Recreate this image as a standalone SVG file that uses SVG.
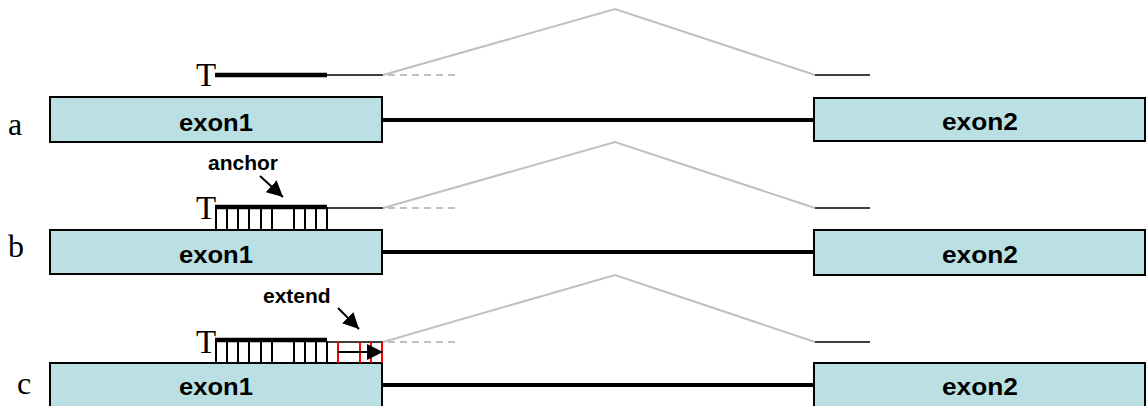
<svg xmlns="http://www.w3.org/2000/svg" width="1147" height="406" viewBox="0 0 1147 406">
  <style>
    .exon { fill: #BBE0E3; stroke: #000; stroke-width: 2; }
    .exon-label { font-family: "Liberation Sans", Arial, sans-serif; font-weight: bold; font-size: 24px; text-anchor: middle; fill: #000; }
    .row-label { font-family: "Liberation Serif", "Times New Roman", serif; font-size: 32px; fill: #000; }
    .t-label { font-family: "Liberation Serif", "Times New Roman", serif; font-size: 33px; fill: #000; }
    .note { font-family: "Liberation Sans", Arial, sans-serif; font-weight: bold; font-size: 21px; fill: #000; }
    .intron { stroke: #000; stroke-width: 4; fill: none; }
    .read { stroke: #000; stroke-width: 4.5; fill: none; }
    .thin { stroke: #000; stroke-width: 1.5; fill: none; }
    .splice { stroke: #C0C0C0; stroke-width: 2; fill: none; }
    .dash { stroke: #C0C0C0; stroke-width: 2; stroke-dasharray: 7 5; fill: none; }
    .tick { stroke: #000; stroke-width: 2; }
    .tick-red { stroke: #FF0000; stroke-width: 2; }
    .pointer { stroke: #000; stroke-width: 2; fill: none; }
  </style>
  <defs>
    <marker id="head" viewBox="0 0 10 10" refX="10" refY="5" markerWidth="8" markerHeight="8" markerUnits="strokeWidth" orient="auto">
      <path d="M0,0 L10,5 L0,10 Z" fill="#000"/>
    </marker>
  </defs>

  <!-- row a -->
  <text class="row-label" x="8" y="135">a</text>
  <g id="a-exon1">
    <rect class="exon" x="50" y="97" width="332" height="45"/>
    <text class="exon-label" x="216" y="131" textLength="74" lengthAdjust="spacingAndGlyphs">exon1</text>
  </g>
  <g id="a-exon2">
    <rect class="exon" x="814" y="98" width="331" height="43"/>
    <text class="exon-label" x="980" y="130" textLength="76" lengthAdjust="spacingAndGlyphs">exon2</text>
  </g>
  <g id="a-read">
    <text class="t-label" x="196" y="86">T</text>
    <line class="read" x1="215" y1="75" x2="327" y2="75"/>
    <line class="thin" x1="327" y1="75" x2="383" y2="75"/>
  </g>

  <!-- row b -->
  <text class="row-label" x="8" y="257">b</text>
  <g id="b-exon1">
    <rect class="exon" x="50" y="230" width="332" height="44"/>
    <text class="exon-label" x="216" y="263" textLength="74" lengthAdjust="spacingAndGlyphs">exon1</text>
  </g>
  <g id="b-exon2">
    <rect class="exon" x="814" y="230" width="331" height="45"/>
    <text class="exon-label" x="980" y="263" textLength="76" lengthAdjust="spacingAndGlyphs">exon2</text>
  </g>
  <g id="b-read">
    <text class="t-label" x="196" y="219">T</text>
    <g class="tick">
      <line x1="216" y1="207" x2="216" y2="230"/>
      <line x1="227" y1="207" x2="227" y2="230"/>
      <line x1="238" y1="207" x2="238" y2="230"/>
      <line x1="249" y1="207" x2="249" y2="230"/>
      <line x1="261" y1="207" x2="261" y2="230"/>
      <line x1="272" y1="207" x2="272" y2="230"/>
      <line x1="294" y1="207" x2="294" y2="230"/>
      <line x1="305" y1="207" x2="305" y2="230"/>
      <line x1="316" y1="207" x2="316" y2="230"/>
      <line x1="327" y1="207" x2="327" y2="230"/>
    </g>
    <line class="read" x1="215" y1="207" x2="327" y2="207"/>
    <line class="thin" x1="327" y1="208" x2="383" y2="208"/>
  </g>
  <g id="b-anchor">
    <text class="note" x="208" y="170">anchor</text>
  </g>

  <!-- row c -->
  <text class="row-label" x="17" y="394">c</text>
  <g id="c-exon1">
    <rect class="exon" x="50" y="363" width="332" height="46"/>
    <text class="exon-label" x="216" y="395" textLength="74" lengthAdjust="spacingAndGlyphs">exon1</text>
  </g>
  <g id="c-exon2">
    <rect class="exon" x="814" y="363" width="331" height="46"/>
    <text class="exon-label" x="980" y="395" textLength="76" lengthAdjust="spacingAndGlyphs">exon2</text>
  </g>
  <g id="c-read">
    <text class="t-label" x="196" y="353">T</text>
    <g class="tick">
      <line x1="216" y1="341" x2="216" y2="363"/>
      <line x1="227" y1="341" x2="227" y2="363"/>
      <line x1="238" y1="341" x2="238" y2="363"/>
      <line x1="249" y1="341" x2="249" y2="363"/>
      <line x1="261" y1="341" x2="261" y2="363"/>
      <line x1="272" y1="341" x2="272" y2="363"/>
      <line x1="294" y1="341" x2="294" y2="363"/>
      <line x1="305" y1="341" x2="305" y2="363"/>
      <line x1="316" y1="341" x2="316" y2="363"/>
      <line x1="327" y1="341" x2="327" y2="363"/>
    </g>
    <line class="thin" x1="327" y1="342" x2="383" y2="342"/>
    <g class="tick-red">
      <line x1="338" y1="342" x2="338" y2="363"/>
      <line x1="360" y1="342" x2="360" y2="363"/>
      <line x1="371" y1="342" x2="371" y2="363"/>
      <line x1="382" y1="342" x2="382" y2="363"/>
    </g>
    <line class="read" x1="215" y1="340" x2="327" y2="340"/>
  </g>
  <g id="c-extend">
    <text class="note" x="263" y="303">extend</text>
  </g>

  <!-- connectors: introns, splice paths, pointers -->
  <g id="connectors">
    <line class="intron" x1="382" y1="120" x2="814" y2="120"/>
    <line class="intron" x1="382" y1="252" x2="814" y2="252"/>
    <line class="intron" x1="382" y1="385" x2="814" y2="385"/>

    <polyline class="splice" points="383,75 615,9 815,75"/>
    <line class="dash" x1="388" y1="75" x2="460" y2="75"/>
    <line class="thin" x1="815" y1="75" x2="870" y2="75"/>

    <polyline class="splice" points="383,208 615,142 815,208"/>
    <line class="dash" x1="388" y1="208" x2="460" y2="208"/>
    <line class="thin" x1="815" y1="208" x2="870" y2="208"/>

    <polyline class="splice" points="383,342 615,275 815,342"/>
    <line class="dash" x1="388" y1="342" x2="460" y2="342"/>
    <line class="thin" x1="815" y1="342" x2="870" y2="342"/>

    <line class="pointer" x1="260" y1="176" x2="283" y2="197" marker-end="url(#head)"/>
    <line class="pointer" x1="338" y1="308" x2="359" y2="329" marker-end="url(#head)"/>
    <line class="pointer" x1="338" y1="352" x2="383" y2="352" marker-end="url(#head)"/>
  </g>
</svg>
